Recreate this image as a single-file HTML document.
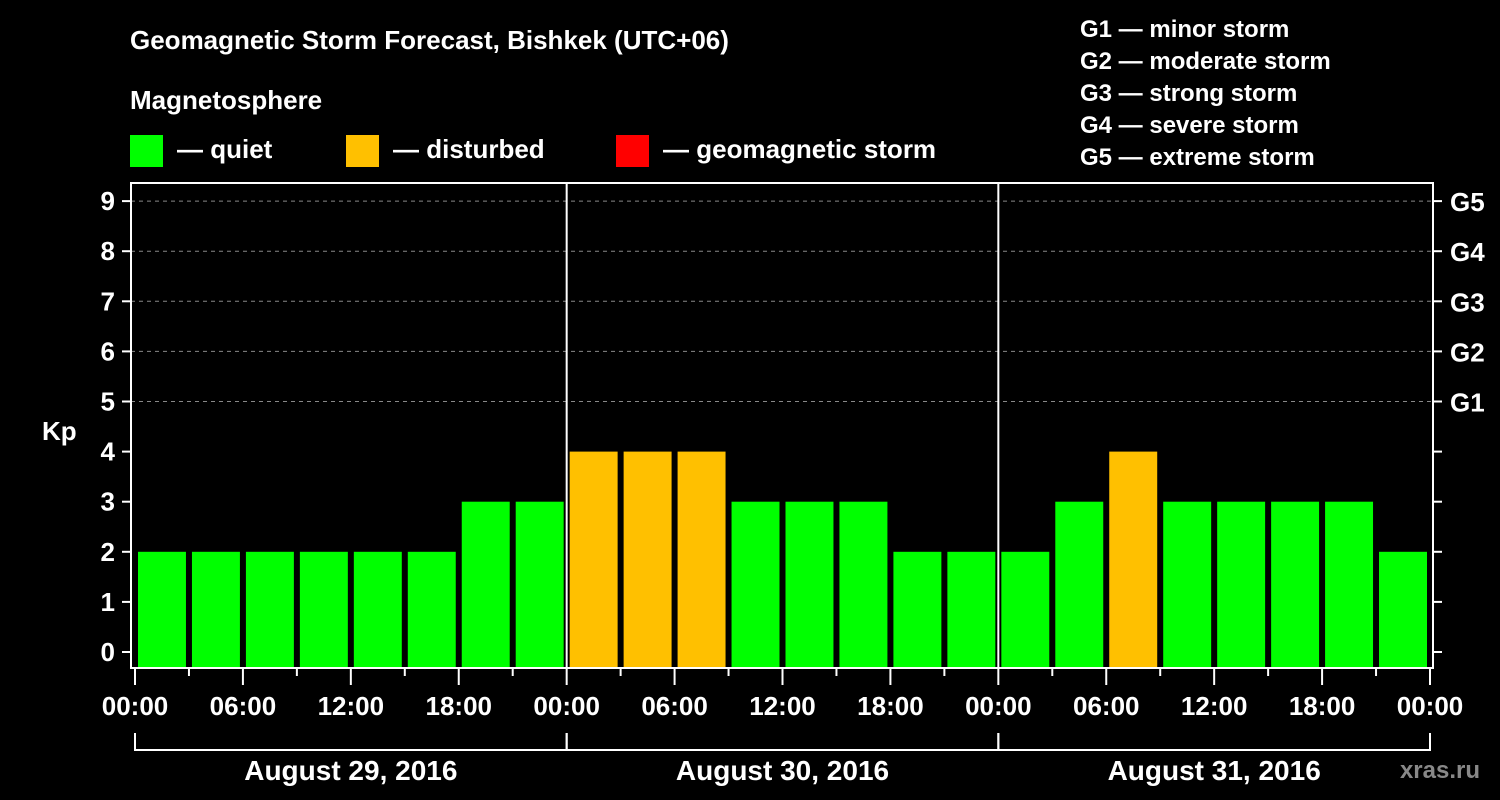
<!DOCTYPE html>
<html><head><meta charset="utf-8"><style>
body{margin:0;background:#000;}
svg{display:block;font-family:"Liberation Sans",Arial,sans-serif;font-weight:bold;}
</style></head><body>
<svg id="chart" width="1500" height="800" viewBox="0 0 1500 800">
<rect width="1500" height="800" fill="#000"/>
<text x="130" y="49" fill="#fff" font-size="26">Geomagnetic Storm Forecast, Bishkek (UTC+06)</text>
<text x="130" y="109" fill="#fff" font-size="26">Magnetosphere</text>
<g><rect x="130" y="135" width="33" height="32" fill="#00ff00"/><text x="177" y="158" fill="#fff" font-size="26">— quiet</text></g>
<g><rect x="346" y="135" width="33" height="32" fill="#ffc000"/><text x="393" y="158" fill="#fff" font-size="26">— disturbed</text></g>
<g><rect x="616" y="135" width="33" height="32" fill="#ff0000"/><text x="663" y="158" fill="#fff" font-size="26">— geomagnetic storm</text></g>
<g fill="#fff" font-size="24">
<text x="1080" y="37">G1 — minor storm</text>
<text x="1080" y="69">G2 — moderate storm</text>
<text x="1080" y="101">G3 — strong storm</text>
<text x="1080" y="133">G4 — severe storm</text>
<text x="1080" y="165">G5 — extreme storm</text>
</g>
<text x="42" y="440" fill="#fff" font-size="26">Kp</text>
<g id="grid"></g><g id="bars"></g><g id="axes"></g>
<text x="1480" y="778" fill="#888" font-size="24" text-anchor="end">xras.ru</text>
</svg>
<script>
const kpValues=[2,2,2,2,2,2,3,3, 4,4,4,3,3,3,2,2, 2,3,4,3,3,3,3,2];
const dayLabels=["August 29, 2016","August 30, 2016","August 31, 2016"];
const timeLabels=["00:00","06:00","12:00","18:00"];
const gLabels=["G1","G2","G3","G4","G5"];
const NS="http://www.w3.org/2000/svg";
const X0=135,X1=1430,L=131,R=1433,T=183,B=668;
const slot=(X1-X0)/kpValues.length;
function y(v){return 652-50.1*v;}
function x(i){return X0+i*slot;}
function mk(tag,attrs,parent,txt){const e=document.createElementNS(NS,tag);for(const k in attrs)e.setAttribute(k,attrs[k]);if(txt!==undefined)e.textContent=txt;parent.appendChild(e);return e;}
const grid=document.getElementById('grid'),bars=document.getElementById('bars'),axes=document.getElementById('axes');
for(let v=5;v<=9;v++){const l=mk('line',{x1:L,x2:R,y1:y(v),y2:y(v),stroke:'#888','stroke-dasharray':'4,4','stroke-width':1},grid);

}
kpValues.forEach((v,i)=>{const c=v>=5?'#ff0000':(v>=4?'#ffc000':'#00ff00');
const r=mk('rect',{x:x(i)+3,y:y(v),width:slot-6,height:B-y(v),fill:c},bars);

});
const f=mk('rect',{x:L,y:T,width:R-L,height:B-T,fill:'none',stroke:'#fff','stroke-width':2},axes);


for(let d=1;d<dayLabels.length;d++){const xx=x(d*8);const s=mk('line',{x1:xx,x2:xx,y1:T,y2:B,stroke:'#fff','stroke-width':2},axes);

}
for(let v=0;v<=9;v++){mk('line',{x1:L-9,x2:L,y1:y(v),y2:y(v),stroke:'#fff','stroke-width':2},axes);
const t=mk('text',{x:115,y:y(v)+9,fill:'#fff','font-size':26,'text-anchor':'end'},axes,String(v));


mk('line',{x1:R,x2:R+9,y1:y(v),y2:y(v),stroke:'#fff','stroke-width':2},axes);}
gLabels.forEach((g,i)=>{const t=mk('text',{x:1450,y:y(5+i)+10,fill:'#fff','font-size':26},axes,g);

});
for(let i=0;i<=kpValues.length;i++){const major=i%2===0;
mk('line',{x1:x(i),x2:x(i),y1:B,y2:B+(major?17:8),stroke:'#fff','stroke-width':2},axes);
if(major){const t=mk('text',{x:x(i),y:715,fill:'#fff','font-size':26,'text-anchor':'middle'},axes,timeLabels[(i/2)%4]);

}}
dayLabels.forEach((d,k)=>{const a=x(k*8),b=x(k*8+8);
mk('path',{d:`M${a} 733V750H${b}V733`,stroke:'#fff','stroke-width':2,fill:'none'},axes);
const t=mk('text',{x:(a+b)/2,y:780,fill:'#fff','font-size':28,'text-anchor':'middle'},axes,d);

});
</script>
</body></html>
